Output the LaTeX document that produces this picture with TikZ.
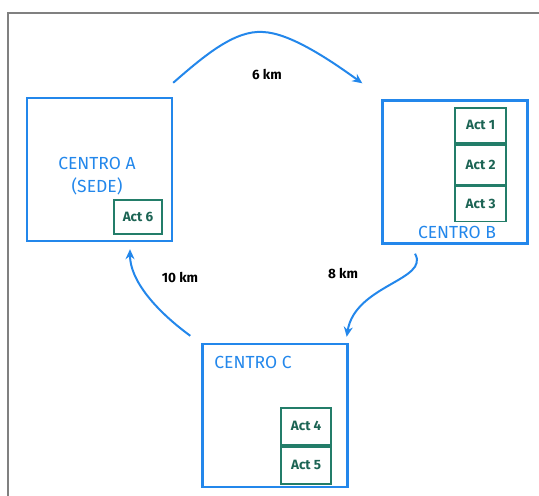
\documentclass[tikz,border=0pt]{standalone}
\usepackage{fontspec}
\setmainfont{Fira Sans}
\usepackage{tikz}
\usetikzlibrary{positioning,arrows.meta}
\definecolor{azul}{RGB}{35,135,235}
\definecolor{verde}{RGB}{35,125,105}
\definecolor{marco}{RGB}{128,128,128}
\tikzset{>=Stealth}
\tikzset{%
    centro/.style={draw=azul,line width=2.4pt,minimum width=145pt,minimum height=143pt,inner sep=0pt},
    act/.style={draw=verde,line width=1.8pt,text=verde!80!black,minimum width=50pt,minimum height=37pt,inner sep=0pt,font=\fontsize{13.5}{15}\selectfont\bfseries},
    nombre/.style={text=azul,font=\fontsize{17.5}{23}\selectfont,align=center},
    ruta/.style={draw=azul,line width=2pt,-{Stealth[length=10pt,width=9pt]}},
    dist/.style={font=\fontsize{13.5}{15}\selectfont\bfseries}
}

\begin{document}
\begin{tikzpicture}[x=1pt,y=-1pt]
  \useasboundingbox (0,0) rectangle (539,496);
  \draw[marco,line width=2.5pt] (8,496) -- (8,13) -- (539,13);
  % centros
  \node[centro] (cA) at (99.5,169.5) {};
  \node[centro] (cB) at (455,172) {};
  \node[centro] (cC) at (275,415.5) {};
  \node[nombre] at (97,176) {CENTRO A\\(SEDE)};
  \node[nombre] at (457,232) {CENTRO B};
  \node[nombre] at (253,362) {CENTRO C};
  % actividades
  \node[act,minimum width=48pt,minimum height=34pt] (a6) at (138,217) {Act 6};
  \node[act,anchor=north east,minimum width=51pt,minimum height=35pt] (a1) at (507,107) {Act 1};
  \node[act,below=0pt of a1,minimum width=51pt,minimum height=40pt] (a2) {Act 2};
  \node[act,below=0pt of a2,minimum width=51pt,minimum height=35pt] (a3) {Act 3};
  \node[act,anchor=north east] (a4) at (332,407) {Act 4};
  \node[act,below=0pt of a4] (a5) {Act 5};
  % rutas
  \draw[ruta] ([yshift=14pt]cA.north east) .. controls (205,55) and (235,30) .. (263,32)
    .. controls (290,33) and (330,60) .. ([xshift=-19pt,yshift=16pt]cB.north west);
  \draw[ruta] ([xshift=-40pt,yshift=-9pt]cB.south) .. controls (430,280) and (355,285) .. ([xshift=-2pt,yshift=6pt]cC.north east);
  \draw[ruta] ([xshift=-11pt,yshift=7pt]cC.north west) .. controls (155,310) and (130,280) .. ([xshift=30.5pt,yshift=-7pt]cA.south);
  \node[dist] at (267,74) {6 km};
  \node[dist] at (343,273) {8 km};
  \node[dist] at (180,277) {10 km};
\end{tikzpicture}
\end{document}
